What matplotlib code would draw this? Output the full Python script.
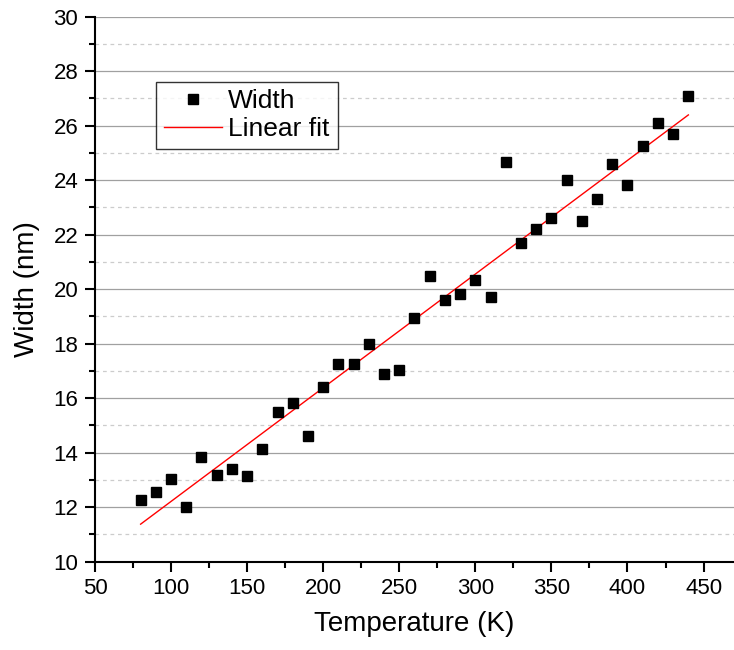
import numpy as np
from matplotlib import pyplot as plt

plt.rcParams['font.family'] = ['Liberation Sans', 'DejaVu Sans']

# Temperatura (K) e largura (nm)
temperatura = [80, 90, 100, 110, 120, 130, 140, 150, 160, 170,
               180, 190, 200, 210, 220, 230, 240, 250, 260, 270,
               280, 290, 300, 310, 320, 330, 340, 350, 360, 370,
               380, 390, 400, 410, 420, 430, 440]
largura = [12.28, 12.57, 13.03, 12.02, 13.86, 13.17, 13.41, 13.13, 14.13, 15.48,
           15.82, 14.61, 16.40, 17.27, 17.26, 17.99, 16.89, 17.05, 18.94, 20.47,
           19.60, 19.81, 20.32, 19.73, 24.67, 21.70, 22.22, 22.63, 24.02, 22.49,
           23.31, 24.59, 23.82, 25.27, 26.09, 25.70, 27.08]

# Ajuste linear
coef = np.polyfit(temperatura, largura, 1)
x_fit = np.array([temperatura[0], temperatura[-1]])
y_fit = np.polyval(coef, x_fit)

fig = plt.figure(figsize=(7.34, 6.5), dpi=100)
ax = fig.add_axes([0.1294, 0.1358, 0.8706, 0.8385])

ax.plot(temperatura, largura, 's', color='k', markersize=7.6, label='Width', zorder=3)
ax.plot(x_fit, y_fit, '-', color='red', linewidth=1.0, label='Linear fit', zorder=2)

ax.set_xlim(50, 470)
ax.set_ylim(10, 30)
ax.set_xticks(np.arange(50, 451, 50))
ax.set_xticks(np.arange(75, 451, 50), minor=True)
ax.set_yticks(np.arange(10, 31, 2))
ax.set_yticks(np.arange(11, 30, 2), minor=True)

ax.grid(True, which='major', axis='y', color='#a0a0a0', linewidth=0.9)
ax.grid(True, which='minor', axis='y', color='#cccccc', linewidth=0.9, linestyle=(0, (3, 3)))
ax.set_axisbelow(True)

for lado in ['top', 'right']:
    ax.spines[lado].set_visible(False)
for lado in ['left', 'bottom']:
    ax.spines[lado].set_linewidth(1.5)

ax.tick_params(which='major', direction='out', length=7, width=1.5, labelsize=16, pad=5)
ax.tick_params(which='minor', direction='out', length=4, width=1.5)

ax.set_xlabel('Temperature (K)', fontsize=20, labelpad=8)
ax.set_ylabel('Width (nm)', fontsize=20, labelpad=10)

leg = ax.legend(loc='upper left', bbox_to_anchor=(0.095, 0.881), borderaxespad=0,
                fontsize=19, frameon=True, fancybox=False, handlelength=2.2,
                handletextpad=0.25, borderpad=0.3, labelspacing=0.15)
leg.get_frame().set_edgecolor('k')
leg.get_frame().set_linewidth(1.0)

fig.savefig('out.png', dpi=100)
